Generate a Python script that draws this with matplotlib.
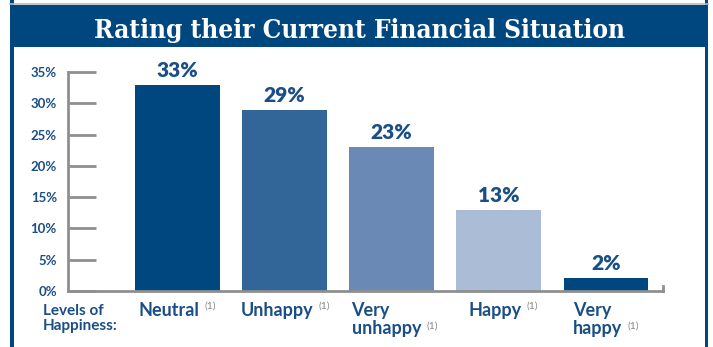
import matplotlib.pyplot as plt
from matplotlib.patches import Rectangle
from matplotlib.lines import Line2D

# data
categories = ["Neutral", "Unhappy", "Very\nunhappy", "Happy", "Very\nhappy"]
values = [33, 29, 23, 13, 2]
bar_colors = ["#00467f", "#326699", "#6b89b5", "#abbcd7", "#00467f"]
yticks = [0, 5, 10, 15, 20, 25, 30, 35]
title = "Rating their Current Financial Situation"

# label offsets from bar centres, in pixels (layout only)
label_shift = [-39, -43.5, -40, -30.5, -33]

navy = "#00467f"
text_blue = "#1a4e86"
gray = "#8f8f91"
font = "Lato"

W, H = 713, 347
fig = plt.figure(figsize=(W / 100, H / 100), dpi=100)


def fx(px):
    return px / W


def fy(py):
    return 1 - py / H


# frame and title banner
fig.add_artist(Line2D([fx(10), fx(708)], [fy(3.5), fy(3.5)], color="#b7bcc4", lw=1.2))
fig.add_artist(Rectangle((fx(10), 0), fx(4), 1, color=navy, lw=0))
fig.add_artist(Rectangle((fx(705), 0), fx(3), 1, color=navy, lw=0))
fig.add_artist(Rectangle((fx(10), fy(47)), fx(698), 42 / H, color=navy, lw=0))
fig.text(fx(360), fy(38), title, color="white", fontsize=18.8, fontweight="bold",
         family="DejaVu Serif", fontstretch="condensed", ha="center", va="baseline")

# axes: y 0..35 from y=291 to y=72, x from 68 to 663
ax = fig.add_axes([fx(68), fy(291), fx(663 - 68), (291 - 72) / H])
x = list(range(len(categories)))
ax.bar(x, values, width=0.79, color=bar_colors, zorder=1)
ax.set_xlim(-1.019, 4.533)
ax.set_ylim(0, 35)

for xi, v in zip(x, values):
    ax.text(xi, v + 1.28, f"{v}%", ha="center", va="baseline", fontsize=15,
            fontweight="heavy", color=text_blue, family=font)

ax.set_yticks(yticks)
ax.set_yticklabels([f"{t}%" for t in yticks], fontsize=9.5, fontweight="bold",
                   color=text_blue, family=font)
ax.tick_params(axis="y", direction="in", length=20, width=2, color=gray, pad=8)
ax.set_xticks([])
for s in ["top", "right"]:
    ax.spines[s].set_visible(False)
for s in ["left", "bottom"]:
    ax.spines[s].set_color(gray)
    ax.spines[s].set_linewidth(2)
ax.spines["bottom"].set_zorder(3)
ax.plot([1, 1], [0, 0.025], transform=ax.transAxes, color=gray, lw=2, clip_on=False)

# category labels with footnote markers
fig.canvas.draw()
renderer = fig.canvas.get_renderer()
pitch = 20
top = 302
for xi, cat, sh in zip(x, categories, label_shift):
    cx = ax.transData.transform((xi, 0))[0]
    lx = cx + sh
    fig.text(fx(lx), fy(top), cat, ha="left", va="top", fontsize=13,
             fontweight="bold", color=text_blue, family=font, linespacing=1.1)
    lines = cat.split("\n")
    tmp = fig.text(0, 0, lines[-1], fontsize=13, fontweight="bold", family=font)
    tw = tmp.get_window_extent(renderer).width
    tmp.remove()
    fig.text(fx(lx + tw + 5), fy(top + pitch * (len(lines) - 1)), "(1)",
             fontsize=7.5, color="#858585", family=font, ha="left", va="top")

fig.text(fx(43), fy(304), "Levels of\nHappiness:", fontsize=11, fontweight="bold",
         color=text_blue, family=font, ha="left", va="top", linespacing=1.05)

fig.savefig("out.png", dpi=100)
